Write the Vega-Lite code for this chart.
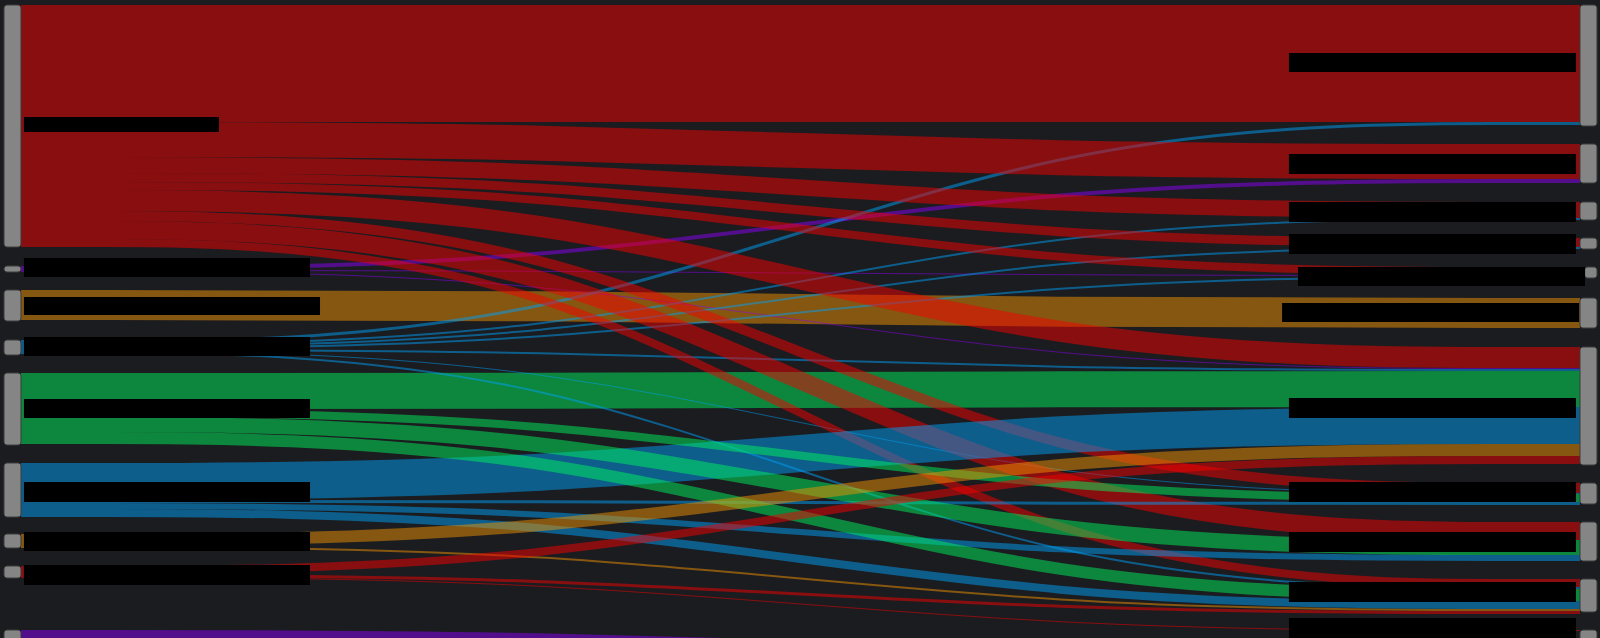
{
  "$schema": "https://vega.github.io/schema/vega-lite/v6.json",
  "width": 1600,
  "height": 638,
  "autosize": {"type": "none"},
  "padding": 0,
  "background": "#1b1c20",
  "config": {"view": {"stroke": null}},
  "datasets": {
    "links": [
      {"id": "L9-R12", "src": "L9", "w": 15, "t": [0, 0.3333, 0.6667, 1], "y": [637.5, 637.5, 657.5, 657.5]},
      {"id": "L8-R11", "src": "L8", "w": 1, "t": [0, 0.3333, 0.6667, 1], "y": [577.5, 577.5, 630.5, 630.5]},
      {"id": "L8-R10", "src": "L8", "w": 3, "t": [0, 0.3333, 0.6667, 1], "y": [575.5, 575.5, 612.5, 612.5]},
      {"id": "L7-R10", "src": "L7", "w": 2, "t": [0, 0.3333, 0.6667, 1], "y": [547, 547, 610, 610]},
      {"id": "L3-R6", "src": "L3", "w": 30, "t": [0, 0.3333, 0.6667, 1], "y": [305, 305, 313, 313]},
      {"id": "L5-R7", "src": "L5", "w": 36, "t": [0, 0.3333, 0.6667, 1], "y": [391, 391, 389, 389]},
      {"id": "L2-R2", "src": "L2", "w": 4, "t": [0, 0.3333, 0.6667, 1], "y": [268, 268, 181, 181]},
      {"id": "L2-R5", "src": "L2", "w": 1, "t": [0, 0.3333, 0.6667, 1], "y": [270.5, 270.5, 275.5, 275.5]},
      {"id": "L2-R7", "src": "L2", "w": 1, "t": [0, 0.3333, 0.6667, 1], "y": [271.5, 271.5, 368.5, 368.5]},
      {"id": "L4-R1", "src": "L4", "w": 3, "t": [0, 0.3333, 0.6667, 1], "y": [341.5, 341.5, 123.5, 123.5]},
      {"id": "L4-R3", "src": "L4", "w": 2, "t": [0, 0.3333, 0.6667, 1], "y": [344, 344, 219, 219]},
      {"id": "L4-R4", "src": "L4", "w": 2, "t": [0, 0.3333, 0.6667, 1], "y": [346, 346, 248, 248]},
      {"id": "L4-R5", "src": "L4", "w": 2, "t": [0, 0.3333, 0.6667, 1], "y": [348, 348, 277, 277]},
      {"id": "L4-R7", "src": "L4", "w": 2, "t": [0, 0.3333, 0.6667, 1], "y": [350, 350, 370, 370]},
      {"id": "L4-R8", "src": "L4", "w": 1, "t": [0, 0.3333, 0.6667, 1], "y": [351.5, 351.5, 493.5, 493.5]},
      {"id": "L4-R10", "src": "L4", "w": 2, "t": [0, 0.3333, 0.6667, 1], "y": [353, 353, 588, 588]},
      {"id": "L1-R1", "src": "L1", "w": 117, "t": [0, 0.3333, 0.6667, 1], "y": [63.5, 63.5, 63.5, 63.5]},
      {"id": "L1-R2", "src": "L1", "w": 35, "t": [0, 0.3333, 0.6667, 1], "y": [139.5, 139.5, 161.5, 161.5]},
      {"id": "L1-R3", "src": "L1", "w": 16, "t": [0, 0.3333, 0.6667, 1], "y": [165, 165, 210, 210]},
      {"id": "L1-R4", "src": "L1", "w": 9, "t": [0, 0.3333, 0.6667, 1], "y": [177.5, 177.5, 242.5, 242.5]},
      {"id": "L1-R5", "src": "L1", "w": 8, "t": [0, 0.3333, 0.6667, 1], "y": [186, 186, 271, 271]},
      {"id": "L1-R7", "src": "L1", "w": 21, "t": [0, 0.3333, 0.6667, 1], "y": [200.5, 200.5, 357.5, 357.5]},
      {"id": "L1-R8", "src": "L1", "w": 10, "t": [0, 0.3333, 0.6667, 1], "y": [216, 216, 488, 488]},
      {"id": "L1-R9", "src": "L1", "w": 18, "t": [0, 0.3333, 0.6667, 1], "y": [230, 230, 531, 531]},
      {"id": "L1-R10", "src": "L1", "w": 8, "t": [0, 0.3333, 0.6667, 1], "y": [243, 243, 583, 583]},
      {"id": "L6-R7", "src": "L6", "w": 37, "t": [0, 0.3333, 0.6667, 1], "y": [481.5, 481.5, 425.5, 425.5]},
      {"id": "L6-R8", "src": "L6", "w": 3, "t": [0, 0.3333, 0.6667, 1], "y": [501.5, 501.5, 503.5, 503.5]},
      {"id": "L6-R9", "src": "L6", "w": 6, "t": [0, 0.3333, 0.6667, 1], "y": [506, 506, 558, 558]},
      {"id": "L6-R10", "src": "L6", "w": 8, "t": [0, 0.3333, 0.6667, 1], "y": [513, 513, 605, 605]},
      {"id": "L5-R8", "src": "L5", "w": 8, "t": [0, 0.3333, 0.6667, 1], "y": [413, 413, 498, 498]},
      {"id": "L5-R9", "src": "L5", "w": 15, "t": [0, 0.3333, 0.6667, 1], "y": [424.5, 424.5, 547.5, 547.5]},
      {"id": "L5-R10", "src": "L5", "w": 12, "t": [0, 0.3333, 0.6667, 1], "y": [438, 438, 595, 595]},
      {"id": "L7-R7", "src": "L7", "w": 12, "t": [0, 0.3333, 0.6667, 1], "y": [540, 540, 450, 450]},
      {"id": "L8-R7", "src": "L8", "w": 8, "t": [0, 0.3333, 0.6667, 1], "y": [570, 570, 460, 460]}
    ],
    "nodes": [
      {"node": "L1", "x0": -0.0109, "x1": 0, "y0": 5, "y1": 247},
      {"node": "L2", "x0": -0.0109, "x1": 0, "y0": 266, "y1": 272},
      {"node": "L3", "x0": -0.0109, "x1": 0, "y0": 290, "y1": 321},
      {"node": "L4", "x0": -0.0109, "x1": 0, "y0": 340, "y1": 355},
      {"node": "L5", "x0": -0.0109, "x1": 0, "y0": 373, "y1": 445},
      {"node": "L6", "x0": -0.0109, "x1": 0, "y0": 463, "y1": 517},
      {"node": "L7", "x0": -0.0109, "x1": 0, "y0": 534, "y1": 548},
      {"node": "L8", "x0": -0.0109, "x1": 0, "y0": 566, "y1": 578},
      {"node": "L9", "x0": -0.0109, "x1": 0, "y0": 630, "y1": 645},
      {"node": "R1", "x0": 1, "x1": 1.0109, "y0": 5, "y1": 126},
      {"node": "R2", "x0": 1, "x1": 1.0109, "y0": 144, "y1": 183},
      {"node": "R3", "x0": 1, "x1": 1.0109, "y0": 202, "y1": 220},
      {"node": "R4", "x0": 1, "x1": 1.0109, "y0": 238, "y1": 249},
      {"node": "R5", "x0": 1.003, "x1": 1.0109, "y0": 267, "y1": 278},
      {"node": "R6", "x0": 1, "x1": 1.0109, "y0": 298, "y1": 328},
      {"node": "R7", "x0": 1, "x1": 1.0109, "y0": 347, "y1": 465},
      {"node": "R8", "x0": 1, "x1": 1.0109, "y0": 483, "y1": 504},
      {"node": "R9", "x0": 1, "x1": 1.0109, "y0": 522, "y1": 561},
      {"node": "R10", "x0": 1, "x1": 1.0109, "y0": 579, "y1": 612},
      {"node": "R11", "x0": 1, "x1": 1.0109, "y0": 630, "y1": 646}
    ],
    "labels": [
      {"node": "L1", "x0": 0.0019, "x1": 0.127, "y0": 117, "y1": 132},
      {"node": "L2", "x0": 0.0019, "x1": 0.1854, "y0": 258, "y1": 277},
      {"node": "L3", "x0": 0.0019, "x1": 0.1918, "y0": 297, "y1": 315},
      {"node": "L4", "x0": 0.0019, "x1": 0.1854, "y0": 337, "y1": 356},
      {"node": "L5", "x0": 0.0019, "x1": 0.1854, "y0": 399, "y1": 418},
      {"node": "L6", "x0": 0.0019, "x1": 0.1854, "y0": 482, "y1": 502},
      {"node": "L7", "x0": 0.0019, "x1": 0.1854, "y0": 532, "y1": 551},
      {"node": "L8", "x0": 0.0019, "x1": 0.1854, "y0": 565, "y1": 585},
      {"node": "R1", "x0": 0.8133, "x1": 0.9974, "y0": 53, "y1": 72},
      {"node": "R2", "x0": 0.8133, "x1": 0.9974, "y0": 154, "y1": 174},
      {"node": "R3", "x0": 0.8133, "x1": 0.9974, "y0": 202, "y1": 222},
      {"node": "R4", "x0": 0.8133, "x1": 0.9974, "y0": 234, "y1": 254},
      {"node": "R5", "x0": 0.8191, "x1": 1.0032, "y0": 267, "y1": 286},
      {"node": "R6", "x0": 0.8089, "x1": 0.9994, "y0": 303, "y1": 322},
      {"node": "R7", "x0": 0.8133, "x1": 0.9974, "y0": 398, "y1": 418},
      {"node": "R8", "x0": 0.8133, "x1": 0.9974, "y0": 482, "y1": 502},
      {"node": "R9", "x0": 0.8133, "x1": 0.9974, "y0": 532, "y1": 552},
      {"node": "R10", "x0": 0.8133, "x1": 0.9974, "y0": 582, "y1": 602},
      {"node": "R11", "x0": 0.8133, "x1": 0.9974, "y0": 618, "y1": 640}
    ]
  },
  "layer": [
    {
      "data": {"name": "links"},
      "transform": [{"flatten": ["t", "y"]}],
      "mark": {"type": "line", "interpolate": "basis", "strokeOpacity": 0.5, "strokeCap": "butt", "clip": true},
      "encoding": {
        "x": {"field": "t", "type": "quantitative", "scale": {"domain": [-0.01347, 1.01283], "nice": false, "zero": false}, "axis": null},
        "y": {"field": "y", "type": "quantitative", "scale": {"domain": [0, 638], "reverse": true, "nice": false, "zero": false}, "axis": null},
        "size": {"field": "w", "type": "quantitative", "scale": {"type": "linear", "domain": [0, 100], "range": [0, 100], "zero": true}, "legend": null},
        "color": {"field": "src", "type": "nominal", "scale": {"domain": ["L1", "L2", "L3", "L4", "L5", "L6", "L7", "L8", "L9"], "range": ["#f50000", "#8c00f5", "#f09200", "#00a0f5", "#00f25c", "#00a0f5", "#f09200", "#f50000", "#8c00f5"]}, "legend": null},
        "detail": {"field": "id", "type": "nominal"}
      }
    },
    {
      "data": {"name": "nodes"},
      "mark": {"type": "rect", "fill": "#858585", "stroke": "#3c3c3c", "strokeWidth": 1, "cornerRadius": 3, "clip": true},
      "encoding": {
        "x": {"field": "x0", "type": "quantitative", "axis": null},
        "x2": {"field": "x1"},
        "y": {"field": "y0", "type": "quantitative", "axis": null},
        "y2": {"field": "y1"}
      }
    },
    {
      "data": {"name": "labels"},
      "mark": {"type": "rect", "fill": "#000000", "clip": true},
      "encoding": {
        "x": {"field": "x0", "type": "quantitative", "axis": null},
        "x2": {"field": "x1"},
        "y": {"field": "y0", "type": "quantitative", "axis": null},
        "y2": {"field": "y1"}
      }
    }
  ]
}
